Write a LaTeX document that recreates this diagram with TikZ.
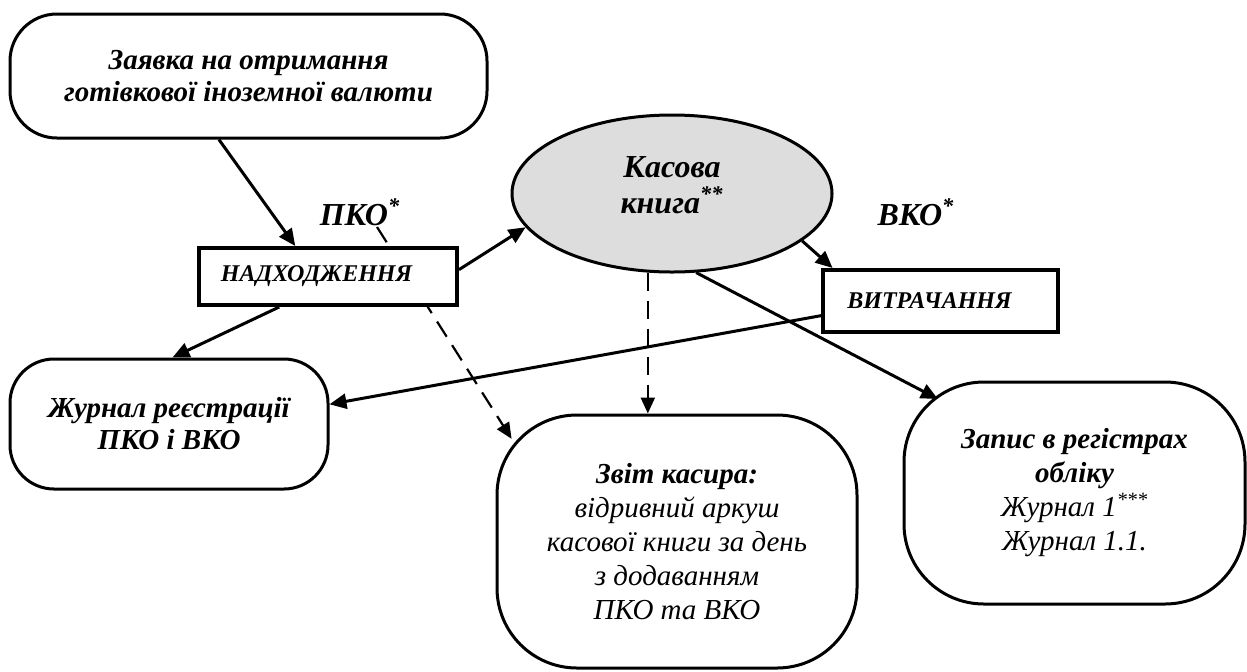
\documentclass[tikz,border=0pt]{standalone}
\usepackage{fontspec}
\setmainfont{Liberation Serif}
\usetikzlibrary{arrows.meta,shapes.geometric,backgrounds}
\begin{document}
\begin{tikzpicture}[x=0.5pt,y=-0.5pt,
  rbox/.style={draw, line width=1.5pt, fill=white, rounded corners=#1, align=center, inner sep=0pt},
  rbox/.default=20pt,
  sbox/.style={draw, line width=2pt, fill=white, align=center, inner sep=0pt,
    font=\fontsize{12}{14}\selectfont\bfseries\itshape},
  bi14/.style={font=\fontsize{14.5}{16}\selectfont\bfseries\itshape},
  it14/.style={font=\fontsize{14.5}{17}\selectfont\itshape},
  bi16/.style={font=\fontsize{16}{18}\selectfont\bfseries\itshape},
  arr/.style={line width=1.5pt, -{Triangle[length=8.5pt,width=7.5pt]}},
  darr/.style={line width=1.1pt, dash pattern=on 9pt off 5pt, -{Triangle[length=8pt,width=7pt]}}]
\useasboundingbox (0,0) rectangle (1247,671);

\node[rbox=23.5pt, bi14, minimum width=238.5pt, minimum height=62pt] (zayavka) at (248.5,76)
  {Заявка на отримання\\готівкової іноземної валюти};
\node[ellipse, draw, line width=1.5pt, fill=gray!27, inner sep=0pt, align=center, bi16,
  minimum width=160pt, minimum height=78.5pt] (kasa) at (672,193.5)
  {Касова\\книга\textsuperscript{**}\\[-10pt]};
\node[bi16] (pko) at (360,212) {ПКО\textsuperscript{*}};
\node[bi16] (vko) at (916,212) {ВКО\textsuperscript{*}};
\coordinate (pkoTail) at (377,227);
\node[sbox, minimum width=129pt, minimum height=28.5pt] (nadh) at (328,276.5)
  {НАДХОДЖЕННЯ\hspace*{11.5pt}};
\node[sbox, minimum width=117.5pt, minimum height=31pt] (vytr) at (940.5,301)
  {ВИТРАЧАННЯ\hspace*{11pt}};
\node[rbox=22pt, bi14, minimum width=159pt, minimum height=65pt] (zhurnal) at (169,424)
  {Журнал реєстрації\\ПКО і ВКО};
\node[rbox=40pt, it14, minimum width=180pt, minimum height=126.5pt] (zvit) at (677,541.5)
  {\textbf{Звіт касира:}\\відривний аркуш\\касової книги за день\\з додаванням\\ПКО та ВКО};
\node[rbox=40pt, it14, minimum width=170.5pt, minimum height=111pt] (zapys) at (1074.5,493)
  {\textbf{Запис в регістрах}\\\textbf{обліку}\\Журнал 1\textsuperscript{***}\\Журнал 1.1.};

\begin{scope}[on background layer]
\draw[darr, shorten >=-15pt] (pkoTail) -- (zvit.north west);
\end{scope}
\draw[arr] (zayavka.-115) -- (nadh.137);
\draw[arr] (nadh.3) -- (kasa.193.5);
\draw[arr] (nadh.212) -- (zhurnal.87);
\draw[arr] (kasa.-20) -- (vytr.163);
\draw[arr, shorten >=-20pt] (kasa.-73) -- (zapys.north west);
\draw[arr] (vytr.187) -- (zhurnal.7);
\draw[darr] (kasa.253) -- (kasa.253 |- zvit.north);
\end{tikzpicture}
\end{document}
